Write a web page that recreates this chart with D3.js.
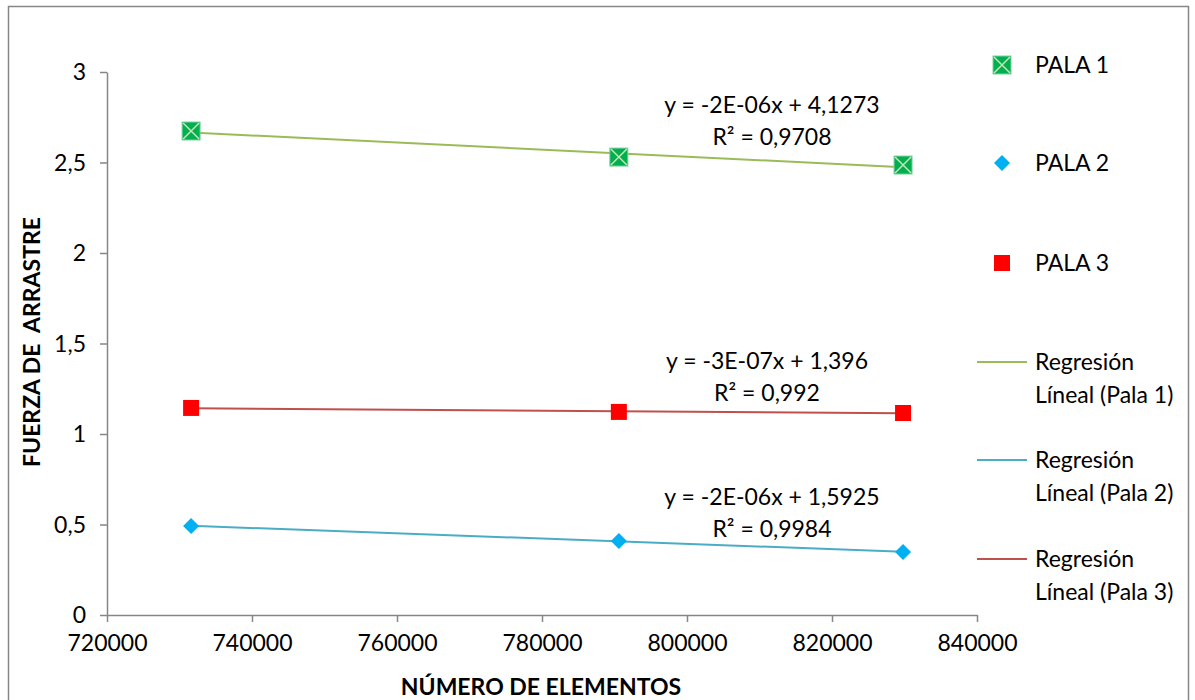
<!DOCTYPE html>
<html>
<head>
<meta charset="utf-8">
<script src="https://cdn.jsdelivr.net/npm/d3@7"></script>
<style>
  body { margin: 0; background: #fff; }
  svg text { font-family: Lato, "Open Sans", sans-serif; fill: #000; }
</style>
</head>
<body>
<svg id="chart" width="1195" height="700"></svg>
<script>
// datos
const elementos = [731600, 790600, 829800]
const pala1 = [2.674, 2.530, 2.486]
const pala2 = [0.492, 0.409, 0.348]
const pala3 = [1.144, 1.122, 1.116]
const ecuaciones = [
    ["y = -2E-06x + 4,1273", "R² = 0,9708"],
    ["y = -2E-06x + 1,5925", "R² = 0,9984"],
    ["y = -3E-07x + 1,396", "R² = 0,992"]
]
const xTicks = [720000, 740000, 760000, 780000, 800000, 820000, 840000]
const yTicks = [0, 0.5, 1, 1.5, 2, 2.5, 3]
const nombres = ["PALA 1", "PALA 2", "PALA 3"]
const nombresReg = [["Regresión", "Líneal (Pala 1)"], ["Regresión", "Líneal (Pala 2)"], ["Regresión", "Líneal (Pala 3)"]]

const colores = {
    marca: ["#00B050", "#00B0F0", "#FF0000"],
    linea: ["#9BBB59", "#4BACC6", "#C0504D"]
}

const svg = d3.select('#chart')
const gris = "#868686"
const fs = "23px"

// marco
svg.append("rect")
    .attr("x", 8.5).attr("y", 6.5)
    .attr("width", 1180).attr("height", 720)
    .attr("fill", "none").attr("stroke", gris).attr("stroke-width", 1.5)

const x = d3.scaleLinear().domain([720000, 840000]).range([107, 977])
const y = d3.scaleLinear().domain([0, 3]).range([615, 72])

const axisX = svg.append("g")
    .attr("transform", "translate(0,615)")
    .call(d3.axisBottom(x).tickValues(xTicks).tickFormat(d3.format("d")).tickSizeInner(7).tickSizeOuter(0).tickPadding(11))
const axisY = svg.append("g")
    .attr("transform", "translate(107,0)")
    .call(d3.axisLeft(y).tickValues(yTicks).tickFormat(d => String(d).replace(".", ",")).tickSizeInner(7).tickSizeOuter(0).tickPadding(14))

for (const a of [axisX, axisY]) {
    a.selectAll("path, line").attr("stroke", gris).attr("stroke-width", 1.5)
    a.selectAll("text").style("font-size", fs).attr("fill", "#000")
}
axisX.selectAll("text").attr("dy", "0.8em")
axisY.selectAll("text").attr("dy", "0.33em")

// titulos de ejes
svg.append("text")
    .attr("x", 541).attr("y", 695)
    .attr("text-anchor", "middle")
    .style("font-size", fs).style("font-weight", "bold")
    .text("NÚMERO DE ELEMENTOS")
svg.append("text")
    .attr("transform", "translate(40,342) rotate(-90)")
    .attr("text-anchor", "middle")
    .style("font-size", fs).style("font-weight", "bold")
    .style("white-space", "pre")
    .attr("xml:space", "preserve")
    .text("FUERZA DE  ARRASTRE")

// regresion lineal por minimos cuadrados
function regresion(xs, ys) {
    const mx = d3.mean(xs), my = d3.mean(ys)
    const b = d3.sum(xs, (v, i) => (v - mx) * (ys[i] - my)) / d3.sum(xs, v => (v - mx) * (v - mx))
    return v => my + b * (v - mx)
}

const series = [pala1, pala2, pala3]
const line = d3.line().x(d => x(d[0])).y(d => y(d[1]))

series.forEach((s, i) => {
    const f = regresion(elementos, s)
    const ext = d3.extent(elementos)
    svg.append("path")
        .datum(ext.map(v => [v, f(v)]))
        .attr("fill", "none")
        .attr("stroke", colores.linea[i])
        .attr("stroke-width", 2)
        .attr("d", line)
})

function marca(g, i, cx, cy) {
    if (i === 0) {
        g.append("rect").attr("x", cx - 9).attr("y", cy - 9).attr("width", 18).attr("height", 18)
            .attr("fill", colores.marca[0]).attr("stroke", "#7fd0a0").attr("stroke-width", 1)
        g.append("path").attr("d", `M${cx - 8},${cy - 8}L${cx + 8},${cy + 8}M${cx + 8},${cy - 8}L${cx - 8},${cy + 8}`)
            .attr("stroke", "#c6e6b4").attr("stroke-width", 1.5)
    } else if (i === 1) {
        g.append("path").attr("d", `M${cx},${cy - 8}L${cx + 8},${cy}L${cx},${cy + 8}L${cx - 8},${cy}Z`)
            .attr("fill", colores.marca[1])
    } else {
        g.append("rect").attr("x", cx - 8).attr("y", cy - 8).attr("width", 16).attr("height", 16)
            .attr("fill", colores.marca[2])
    }
}

series.forEach((s, i) => {
    const g = svg.append("g")
    s.forEach((v, j) => marca(g, i, x(elementos[j]), y(v)))
})

// etiquetas de ecuaciones
const posEc = [[772, 105], [772, 497], [767, 361]]
ecuaciones.forEach((e, i) => {
    const t = svg.append("text")
        .attr("text-anchor", "middle")
        .style("font-size", fs)
    t.append("tspan").attr("x", posEc[i][0]).attr("y", posEc[i][1] + 8).text(e[0])
    t.append("tspan").attr("x", posEc[i][0]).attr("y", posEc[i][1] + 40).text(e[1])
})

// leyenda
const legY = [65, 163, 263]
nombres.forEach((n, i) => {
    const g = svg.append("g")
    marca(g, i, 1002, legY[i])
    g.append("text").attr("x", 1035).attr("y", legY[i] + 8).style("font-size", fs).text(n)
})
const legRegY = [362, 460, 559]
nombresReg.forEach((n, i) => {
    svg.append("line")
        .attr("x1", 977).attr("x2", 1027)
        .attr("y1", legRegY[i]).attr("y2", legRegY[i])
        .attr("stroke", colores.linea[i]).attr("stroke-width", 2)
    const t = svg.append("text").style("font-size", fs)
    t.append("tspan").attr("x", 1035).attr("y", legRegY[i] + 8).text(n[0])
    t.append("tspan").attr("x", 1035).attr("y", legRegY[i] + 41).text(n[1])
})
</script>
</body>
</html>
